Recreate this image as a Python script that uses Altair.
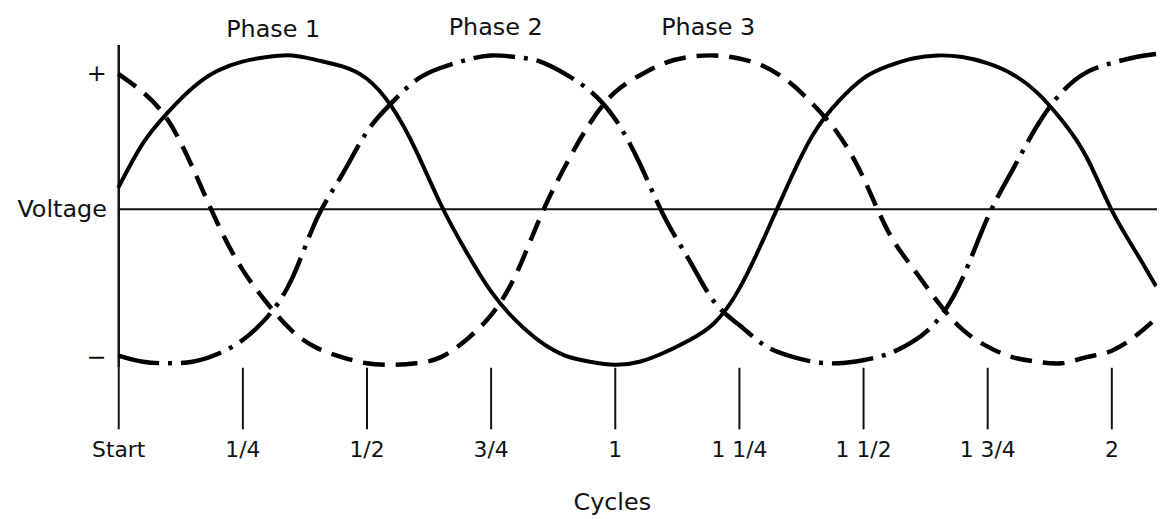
import altair as alt
import pandas as pd

# ---- data (x in cycles, y in normalised voltage) ----
x_cycles = [0.00, 0.05, 0.10, 0.15, 0.20, 0.25, 0.30, 0.35, 0.40, 0.45,
            0.50, 0.55, 0.60, 0.65, 0.70, 0.75, 0.80, 0.85, 0.90, 0.95,
            1.00, 1.05, 1.10, 1.15, 1.20, 1.25, 1.30, 1.35, 1.40, 1.45,
            1.50, 1.55, 1.60, 1.65, 1.70, 1.75, 1.80, 1.85, 1.90, 1.95,
            2.00, 2.05, 2.09]

phase1 = [0.14, 0.43, 0.63, 0.79, 0.90, 0.96, 0.99, 1.00, 0.97, 0.93,
          0.85, 0.67, 0.38, 0.03, -0.27, -0.53, -0.72, -0.86, -0.95, -0.99,
          -1.01, -0.99, -0.93, -0.85, -0.74, -0.52, -0.19, 0.17, 0.49, 0.70,
          0.85, 0.93, 0.98, 1.00, 0.99, 0.95, 0.88, 0.76, 0.58, 0.34,
          0.00, -0.28, -0.50]

phase2 = [-0.95, -0.99, -1.00, -0.99, -0.94, -0.85, -0.70, -0.45, -0.06, 0.22,
          0.50, 0.69, 0.84, 0.92, 0.97, 1.00, 0.99, 0.96, 0.88, 0.77,
          0.59, 0.30, -0.05, -0.33, -0.60, -0.75, -0.88, -0.95, -0.99, -1.00,
          -0.98, -0.94, -0.86, -0.72, -0.45, -0.06, 0.25, 0.54, 0.76, 0.89,
          0.95, 0.99, 1.01]

phase3 = [0.88, 0.76, 0.58, 0.27, -0.09, -0.39, -0.61, -0.79, -0.90, -0.96,
          -1.00, -1.01, -1.00, -0.96, -0.85, -0.69, -0.43, -0.05, 0.28, 0.56,
          0.76, 0.87, 0.95, 0.99, 1.00, 0.98, 0.93, 0.83, 0.68, 0.49,
          0.21, -0.14, -0.38, -0.60, -0.78, -0.89, -0.96, -0.99, -1.00, -0.96,
          -0.92, -0.82, -0.71]

tick_values = [0, 0.25, 0.5, 0.75, 1, 1.25, 1.5, 1.75, 2]
tick_labels = ["Start", "1/4", "1/2", "3/4", "1", "1 1/4", "1 1/2", "1 3/4", "2"]

volt_values = [0.884, 0, -0.961]
volt_labels = ["+", "Voltage", "−"]

phase_names = ["Phase 1", "Phase 2", "Phase 3"]
phase_label_x = [0.312, 0.76, 1.188]
phase_label_y = [1.117, 1.135, 1.135]

x_title = "Cycles"

# ---- styling ----
FONT = "DejaVu Sans"
INK = "#111111"
X_DOMAIN = [0, 2.092]
Y_DOMAIN = [-1.026, 1.071]


def label_expr(values, labels):
    expr = "''"
    for v, l in reversed(list(zip(values, labels))):
        expr = f"datum.value == {v} ? '{l}' : ({expr})"
    return expr


x_scale = alt.Scale(domain=X_DOMAIN, nice=False, zero=False)
y_scale = alt.Scale(domain=Y_DOMAIN, nice=False, zero=False)

x_axis = alt.Axis(
    values=tick_values,
    labelExpr=label_expr(tick_values, tick_labels),
    domain=False, grid=False,
    ticks=True, tickSize=62, tickWidth=2, tickColor=INK,
    labelFont=FONT, labelFontSize=22, labelColor=INK, labelPadding=11,
    labelAngle=0, labelFlush=False, labelOverlap=False,
    title=x_title, titleFont=FONT, titleFontSize=24, titleFontWeight="normal",
    titleColor=INK, titleX=497, titleY=143, titleBaseline="alphabetic",
    titleAlign="center",
)

y_axis = alt.Axis(
    values=volt_values,
    labelExpr=label_expr(volt_values, volt_labels),
    domain=True, domainColor=INK, domainWidth=2.5,
    ticks=False, grid=False,
    labelFont=FONT, labelFontSize=24, labelColor=INK, labelPadding=12,
    labelFlush=False, labelOverlap=False, labelBaseline="middle",
    title=None,
)

X = alt.X("x:Q", scale=x_scale, axis=x_axis)
Y = alt.Y("v:Q", scale=y_scale, axis=y_axis)

zero_line = alt.Chart(pd.DataFrame({"v": [0]})).mark_rule(
    color=INK, strokeWidth=2
).encode(y=Y)

styles = [
    dict(strokeWidth=4),
    dict(strokeWidth=4.5, strokeDash=[42, 9, 4, 9]),
    dict(strokeWidth=4.5, strokeDash=[22, 11]),
]

layers = [zero_line]
for series, st in zip([phase1, phase2, phase3], styles):
    df = pd.DataFrame({"x": x_cycles, "v": series})
    layers.append(
        alt.Chart(df).mark_line(color="#000000", interpolate="natural", **st)
        .encode(x=X, y=Y)
    )

labels_df = pd.DataFrame({"x": phase_label_x, "v": phase_label_y, "name": phase_names})
phase_text = alt.Chart(labels_df).mark_text(
    font=FONT, fontSize=24, color=INK, align="center", baseline="alphabetic"
).encode(x=X, y=Y, text="name:N")
layers.append(phase_text)

chart = alt.layer(*layers).properties(
    width=1046,
    height=325,
    padding={"left": 111, "top": 35, "right": 0, "bottom": 150},
    autosize=alt.AutoSizeParams(type="none"),
    background="white",
).configure_view(stroke=None)

chart.save("out.html", embed_options={"renderer": "svg", "actions": False})
